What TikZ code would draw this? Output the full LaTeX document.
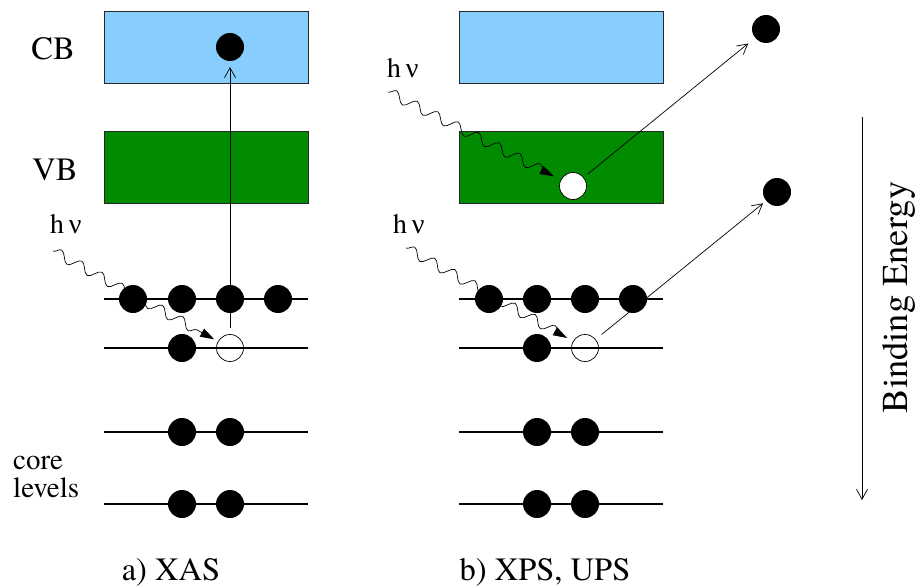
\documentclass[tikz,border=0pt]{standalone}
\usepackage{fontspec}
\setmainfont{texgyretermes}[Extension=.otf, UprightFont=*-regular, BoldFont=*-bold]
\newfontfamily\greekfont{Liberation Serif}
\usetikzlibrary{arrows.meta,decorations.pathmorphing,calc}
\definecolor{cbblue}{RGB}{135,206,255}
\definecolor{vbgreen}{RGB}{0,139,0}
\begin{document}
\begin{tikzpicture}[x=1pt,y=-1pt,
  band/.style={draw=black!85, line width=0.8pt, minimum width=204pt, minimum height=72pt, inner sep=0pt, outer sep=0pt},
  level/.style={line width=2pt},
  elec/.style={circle, fill=black, minimum size=28pt, inner sep=0pt, outer sep=0pt},
  hole/.style={circle, draw=black, line width=0.7pt, minimum size=27pt, inner sep=0pt, outer sep=0pt},
  earrow/.style={line width=0.7pt, -{Straight Barb[length=10pt,width=11pt]}},
  photon/.style={line width=0.7pt, decorate,
    decoration={snake, segment length=23pt, amplitude=5pt, post length=14pt},
    -{Triangle[length=14pt,width=9pt]}},
  lab/.style={inner sep=0pt, anchor=base, font=\fontsize{32.5}{36}\selectfont},
  hnu/.style={inner sep=0pt, anchor=base west, font=\fontsize{28}{30}\selectfont},
  corelab/.style={inner sep=0pt, anchor=base west, font=\fontsize{29}{32}\selectfont}]

\useasboundingbox (0,0) rectangle (920,588);

% conduction and valence bands
\node[band, fill=cbblue]  (cbA) at (206,47) {};
\node[band, fill=vbgreen] (vbA) at (206,167) {};
\node[band, fill=cbblue]  (cbB) at (561,47.5) {};
\node[band, fill=vbgreen] (vbB) at (561,167.5) {};

% core levels
\foreach \y in {299,348,432,504} {
  \draw[level] (104,\y) -- (308,\y);
  \draw[level] (459,\y) -- (663,\y);
}

% a) XAS: occupied states, core hole and excited electron
\node[elec] (a11) at (133,299) {};
\node[elec] (a12) at (182,299) {};
\node[elec] (a13) at (230,299) {};
\node[elec] (a14) at (278,299) {};
\node[elec] (a21) at (182,348) {};
\node[hole] (holeA) at (230,348) {};
\node[elec] (a31) at (182,432) {};
\node[elec] (a32) at (230,432) {};
\node[elec] (a41) at (182,504) {};
\node[elec] (a42) at (230,504) {};
\node[elec] (cbeA) at (230,47) {};

% b) XPS, UPS: occupied states, holes and emitted electrons
\node[elec] (b11) at (489,299) {};
\node[elec] (b12) at (537,299) {};
\node[elec] (b13) at (585,299) {};
\node[elec] (b14) at (633,299) {};
\node[elec] (b21) at (537,348) {};
\node[hole] (holeB) at (585,348) {};
\node[elec] (b31) at (537,432) {};
\node[elec] (b32) at (585,432) {};
\node[elec] (b41) at (537,504) {};
\node[elec] (b42) at (585,504) {};
\node[hole, fill=white] (vbholeB) at (573,186) {};
\node[elec] (freeB1) at (766,29) {};
\node[elec] (freeB2) at (777,192) {};

% electron transitions
\draw[earrow, shorten <=6.5pt, shorten >=6pt] (holeA) -- (cbeA);
\draw[earrow, shorten <=5pt, shorten >=9pt] (vbholeB) -- (freeB1);
\draw[earrow, shorten <=8pt, shorten >=4pt] (holeB) -- (freeB2);

% incoming photons
\coordinate (phA) at (53,251);
\draw[photon, shorten >=4.5pt] (phA) -- (holeA);
\coordinate (phB1) at (388,92);
\draw[photon, shorten >=8pt] (phB1) -- (vbholeB);
\coordinate (phB2) at (406,248);
\draw[photon, shorten >=7pt] (phB2) -- (holeB);

% binding energy axis
\coordinate (beTop) at (862,117);
\coordinate (beBot) at (862,500);
\draw[earrow] (beTop) -- (beBot);

% labels
\node[lab] (cbl) at (53,60) {CB};
\node[lab] (vbl) at (55,180) {VB};
\node[hnu] (hA) at (50,233) {h\,{\greekfont ν}};
\node[hnu] (hB1) at (387,78) {h\,{\greekfont ν}};
\node[hnu] (hB2) at (393,233) {h\,{\greekfont ν}};
\node[corelab] (core) at (13,469) {core};
\node[corelab] (lev) at (13,497) {levels};
\node[lab, font=\fontsize{32.5}{36}\selectfont] (xas) at (171,580) {a) XAS};
\node[lab, font=\fontsize{32.5}{36}\selectfont] (xps) at (545,580) {b) XPS, UPS};
\node[lab, rotate=90, font=\fontsize{36.5}{40}\selectfont] (be) at (907,297.5) {Binding Energy};
\end{tikzpicture}
\end{document}
